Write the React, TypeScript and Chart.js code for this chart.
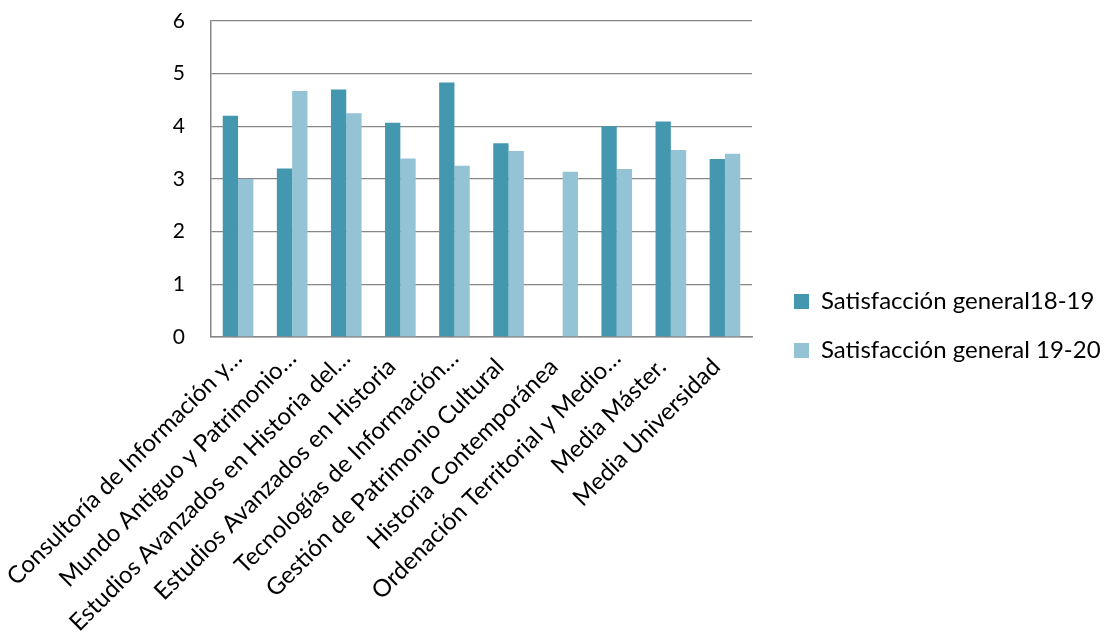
import React, { useEffect, useRef } from "react";
import { Chart, registerables } from "chart.js";

Chart.register(...registerables);

const categories: string[] = [
  "Consultoría de Información y…",
  "Mundo Antiguo y Patrimonio…",
  "Estudios Avanzados en Historia del…",
  "Estudios Avanzados en Historia",
  "Tecnologías de Información…",
  "Gestión de Patrimonio Cultural",
  "Historia Contemporánea",
  "Ordenación Territorial y Medio…",
  "Media Máster.",
  "Media Universidad",
];

const series1Label = "Satisfacción general18-19";
const series2Label = "Satisfacción general 19-20";

const series1: (number | null)[] = [4.2, 3.2, 4.7, 4.07, 4.83, 3.68, null, 4.0, 4.09, 3.38];
const series2: number[] = [3.0, 4.67, 4.25, 3.39, 3.25, 3.53, 3.14, 3.19, 3.55, 3.48];

const yTicks: number[] = [0, 1, 2, 3, 4, 5, 6];

const FONT = "Lato, 'Open Sans', sans-serif";
const LEGEND_FONT_SIZE = 24;
const LEGEND_PAD = 49 - LEGEND_FONT_SIZE;

export default function App() {
  const ref = useRef<HTMLCanvasElement | null>(null);

  useEffect(() => {
    if (!ref.current) return;
    const legendTweak = {
      id: "legendTweak",
      beforeInit(chart: any) {
        const lg = chart.legend;
        if (lg && !lg.__wrapped) {
          const orig = lg.fit.bind(lg);
          lg.fit = function () {
            orig();
            this.width = 352;
          };
          lg.__wrapped = true;
        }
      },
      afterLayout(chart: any) {
        const lg = chart.legend;
        if (lg) {
          const targetLeft = 794 - LEGEND_PAD;
          const dx = targetLeft - lg.left;
          lg.left += dx;
          lg.right += dx;
          const colH = 2 * (LEGEND_FONT_SIZE + LEGEND_PAD);
          const cur = (lg.top + LEGEND_PAD + lg.bottom - colH) / 2;
          const desired = 294 - (LEGEND_FONT_SIZE - 15) / 2;
          const dy = desired - cur;
          lg.top += dy;
          lg.bottom += dy;
        }
      },
    };

    const chart = new Chart(ref.current, {
      type: "bar",
      data: {
        labels: categories,
        datasets: [
          {
            label: series1Label,
            data: series1,
            backgroundColor: "#4398B0",
            categoryPercentage: 0.566,
            barPercentage: 1.0,
          },
          {
            label: series2Label,
            data: series2,
            backgroundColor: "#94C3D5",
            categoryPercentage: 0.566,
            barPercentage: 1.0,
          },
        ],
      },
      options: {
        responsive: false,
        animation: false,
        layout: { padding: { top: 21, left: 0, right: 0, bottom: 0 } },
        plugins: {
          tooltip: { enabled: false },
          legend: {
            position: "right",
            align: "center",
            labels: {
              boxWidth: 15,
              boxHeight: 15,
              padding: LEGEND_PAD,
              color: "#000",
              font: { family: FONT, size: LEGEND_FONT_SIZE },
            },
          },
        },
        scales: {
          x: {
            grid: { display: false, drawTicks: false },
            border: { display: true, color: "#878787", width: 1.5 },
            ticks: {
              autoSkip: false,
              minRotation: 45,
              maxRotation: 45,
              padding: 7,
              color: "#000",
              font: { family: FONT, size: 24 },
              callback: (_v: any, i: number) => {
                const s = categories[i];
                return s.endsWith("…") ? s : s + "  ";
              },
            },
            afterFit(scale: any) {
              scale.height = 300;
              scale.paddingLeft = 0;
              scale.paddingRight = 0;
            },
          },
          y: {
            min: 0,
            max: 6,
            afterBuildTicks(scale: any) {
              scale.ticks = yTicks.map((v) => ({ value: v }));
            },
            grid: { color: "#878787", lineWidth: 1.3, drawTicks: false },
            border: { display: true, color: "#878787", width: 1.5 },
            ticks: {
              padding: 26,
              color: "#000",
              font: { family: FONT, size: 21 },
            },
            afterFit(scale: any) {
              scale.width = 211;
              scale.paddingTop = 0;
              scale.paddingBottom = 0;
            },
          },
        },
      },
      plugins: [legendTweak],
    });
    return () => chart.destroy();
  }, []);

  return (
    <div style={{ position: "absolute", left: 0, top: 0, width: 1104, height: 637, background: "#fff" }}>
      <canvas ref={ref} width={1104} height={637} style={{ display: "block" }} />
    </div>
  );
}
